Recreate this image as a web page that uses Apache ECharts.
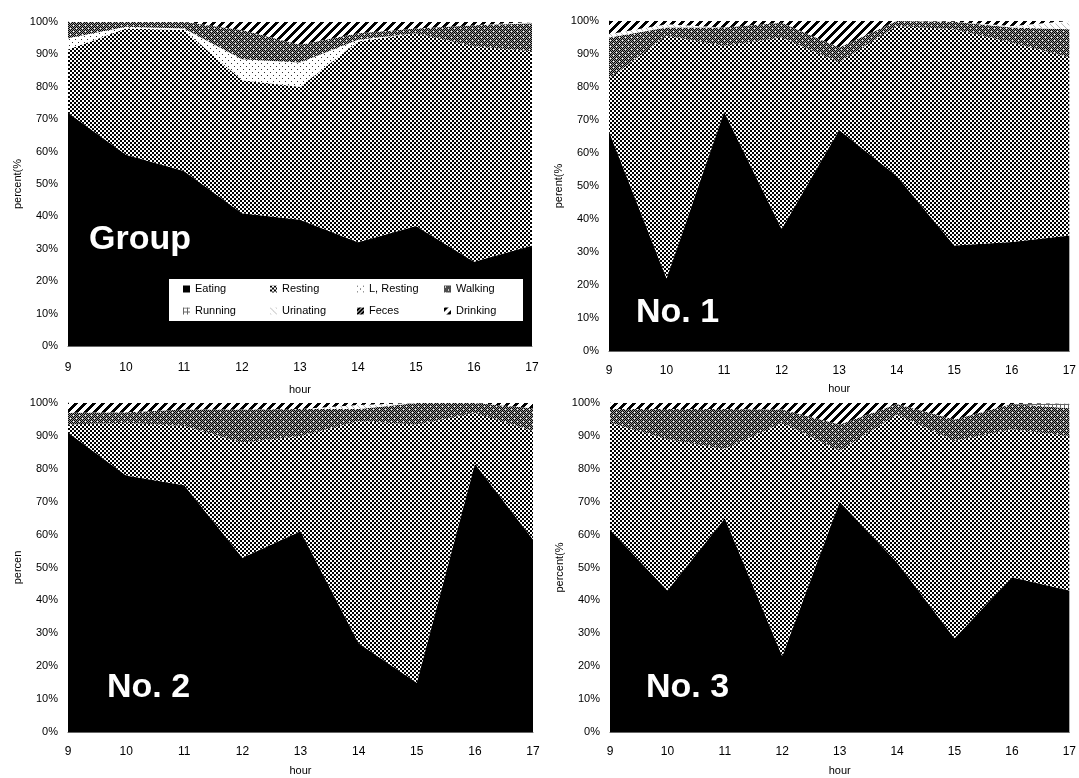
<!DOCTYPE html>
<html>
<head>
<meta charset="utf-8">
<script src="https://cdn.jsdelivr.net/npm/echarts@6/dist/echarts.min.js"></script>
<style>
html,body{margin:0;padding:0;background:#fff;}
#chart{width:1079px;height:778px;}
</style>
</head>
<body>
<div id="chart"></div>
<script>
// ---------- data ----------
const hours = ['9', '10', '11', '12', '13', '14', '15', '16', '17'];
const behaviours = ['Eating', 'Resting', 'L, Resting', 'Walking', 'Running', 'Urinating', 'Feces', 'Drinking'];
const panelTitles = ['Group', 'No. 1', 'No. 2', 'No. 3'];
const yAxisNames = ['percent(%', 'perent(%', 'percen', 'percent(%'];
const xAxisName = 'hour';

// Group
const groupEating    = [72, 59, 54, 41, 39, 32, 37, 26, 31];
const groupResting   = [19.5, 39, 43.5, 41, 41, 62, 59.5, 66.5, 60];
const groupLResting  = [3.5, 0.5, 0.5, 6.5, 7.5, 0.5, 0, 0, 0];
const groupWalking   = [5, 1.5, 2, 9, 5.5, 2, 1.5, 6.5, 8.5];
const groupRunning   = [0, 0, 0, 0, 0, 0, 0, 0, 0];
const groupUrinating = [0, 0, 0, 0, 0, 0, 0, 0, 0];
const groupFeces     = [0, 0, 0, 0, 0, 0, 0, 0, 0];
const groupDrinking  = [0, 0, 0, 2.5, 7, 3.5, 2, 1, 0.5];

// No. 1
const no1Eating    = [66.5, 22, 72.5, 37, 67, 53, 32, 33, 35];
const no1Resting   = [16, 73.5, 20, 58, 20.5, 45.5, 65.5, 60.5, 54];
const no1LResting  = [0, 0, 0, 0, 0, 0, 0, 0, 0];
const no1Walking   = [12.5, 2.5, 5.5, 4.5, 4.5, 1.5, 2.3, 4.5, 8.5];
const no1Running   = [0, 0, 0, 0, 0, 0, 0, 0, 0];
const no1Urinating = [1, 1, 0, 0, 0, 0, 0, 0.5, 2];
const no1Feces     = [0, 0, 0, 0, 0, 0, 0, 0, 0];
const no1Drinking  = [4, 1, 2, 0.5, 8, 0, 0.2, 1.5, 0.5];

// No. 2
const no2Eating    = [91, 78, 75, 53, 61, 27, 15, 81.5, 58.5];
const no2Resting   = [2.5, 16, 18, 35, 29, 67.5, 78.5, 15.5, 33];
const no2LResting  = [0, 0, 0, 0, 0, 0, 0, 0, 0];
const no2Walking   = [3.5, 3.2, 5, 10, 8.2, 3.7, 6.5, 3, 6.9];
const no2Running   = [0, 0, 0, 0, 0, 0, 0, 0, 0];
const no2Urinating = [0, 0, 0, 0, 0, 1.2, 0, 0, 0];
const no2Feces     = [0, 0, 0, 0, 0, 0, 0, 0, 0];
const no2Drinking  = [3, 2.8, 2, 2, 1.8, 0.6, 0, 0, 1.6];

// No. 3
const no3Eating    = [61.5, 43, 65, 23, 70, 51.5, 28.5, 47, 43];
const no3Resting   = [32.5, 46, 21, 71, 15.5, 45, 60, 45, 47];
const no3LResting  = [0, 0, 0, 0, 0, 0, 0, 0, 0];
const no3Walking   = [4.2, 9.2, 12.2, 4, 8, 3.2, 6.5, 7.7, 8.4];
const no3Running   = [0, 0, 0, 0, 0, 0, 0, 0, 1.4];
const no3Urinating = [0, 0, 0, 0, 0, 0, 0, 0, 0];
const no3Feces     = [0, 0, 0, 0, 0, 0, 0, 0, 0];
const no3Drinking  = [1.8, 1.8, 1.8, 2, 6.5, 0.3, 5, 0.3, 0.2];

const panelSeries = [
  [groupEating, groupResting, groupLResting, groupWalking, groupRunning, groupUrinating, groupFeces, groupDrinking],
  [no1Eating, no1Resting, no1LResting, no1Walking, no1Running, no1Urinating, no1Feces, no1Drinking],
  [no2Eating, no2Resting, no2LResting, no2Walking, no2Running, no2Urinating, no2Feces, no2Drinking],
  [no3Eating, no3Resting, no3LResting, no3Walking, no3Running, no3Urinating, no3Feces, no3Drinking]
];

// ---------- styles ----------
const SANS = '"Liberation Sans", Arial, sans-serif';

function pattern(size, fn) {
  const c = document.createElement('canvas');
  c.width = size; c.height = size;
  const ctx = c.getContext('2d');
  ctx.fillStyle = '#fff';
  ctx.fillRect(0, 0, size, size);
  for (let y = 0; y < size; y++) {
    for (let x = 0; x < size; x++) {
      const col = fn(x, y);
      if (col) { ctx.fillStyle = col; ctx.fillRect(x, y, 1, 1); }
    }
  }
  return { image: c, repeat: 'repeat' };
}

const fills = [
  '#000000',
  // Resting: dense dot lattice
  pattern(4, (x, y) => ((Math.floor(x / 2) + Math.floor(y / 2)) % 2 === 0) ? '#000' : null),
  // L. Resting: sparse dots
  pattern(6, (x, y) => ((x === 0 && y === 0) || (x === 3 && y === 3)) ? '#333' : null),
  // Walking: dark grey dither with white dots
  pattern(6, (x, y) => {
    if ((x === 1 && y === 1) || (x === 4 && y === 4)) return '#fff';
    return ((x + y) % 2 === 0) ? '#000' : '#9a9a9a';
  }),
  // Running: hash
  pattern(4, (x, y) => (x === 0 || y === 0) ? '#666' : null),
  // Urinating: light diagonal
  pattern(6, (x, y) => ((x - y + 6) % 6 === 0) ? '#bbb' : null),
  // Feces: dark
  pattern(4, (x, y) => ((x + y) % 4 === 0) ? '#fff' : '#000'),
  // Drinking: thick "/" stripes
  pattern(9, (x, y) => ((x + y) % 9 < 4) ? '#000' : null)
];

// plot rectangles
const grids = [
  { left: 68, top: 22, width: 464, height: 324 },
  { left: 609, top: 21, width: 467, height: 330 },
  { left: 68, top: 403, width: 465, height: 329 },
  { left: 610, top: 403, width: 463, height: 329 }
];
const xNameGaps = [38, 32, 33, 33];
const xLabelMargins = [16, 14, 14, 14];

const xAxes = [], yAxes = [], series = [];
grids.forEach((g, p) => {
  xAxes.push({
    gridIndex: p, type: 'category', data: hours, boundaryGap: false,
    name: xAxisName, nameLocation: 'middle', nameGap: xNameGaps[p],
    nameTextStyle: { color: '#000', fontSize: 11, fontFamily: SANS },
    axisLine: { show: true, lineStyle: { color: '#666', width: 1 } },
    axisTick: { show: false },
    axisLabel: { color: '#000', fontSize: 12, fontFamily: SANS, margin: xLabelMargins[p], interval: 0 },
    splitLine: { show: false }
  });
  yAxes.push({
    gridIndex: p, type: 'value', min: 0, max: 100, interval: 10,
    name: yAxisNames[p], nameLocation: 'middle', nameGap: 45, nameRotate: 90,
    nameTextStyle: { color: '#000', fontSize: 11, fontFamily: SANS },
    axisLine: { show: true, lineStyle: { color: '#666', width: 1 } },
    axisTick: { show: false },
    axisLabel: { color: '#000', fontSize: 11, fontFamily: SANS, margin: 10, formatter: v => v + '%' },
    splitLine: { show: false }
  });
  behaviours.forEach((b, i) => {
    series.push({
      type: 'line', name: b, xAxisIndex: p, yAxisIndex: p, stack: 'panel' + p,
      data: panelSeries[p][i], symbol: 'none', showSymbol: false, silent: true,
      lineStyle: { width: 0, color: fills[i] },
      itemStyle: { color: fills[i] },
      areaStyle: { color: fills[i], opacity: 1 },
      z: 2
    });
  });
});

const titlePos = [
  { left: 89, top: 223 },
  { left: 636, top: 296 },
  { left: 107, top: 671 },
  { left: 646, top: 671 }
];
const graphic = panelTitles.map((t, i) => ({
  type: 'text', left: titlePos[i].left, top: titlePos[i].top, z: 100,
  style: { text: t, fill: '#fff', font: 'bold 34px ' + SANS }
}));

const chart = echarts.init(document.getElementById('chart'), null, { renderer: 'canvas' });
chart.setOption({
  animation: false,
  backgroundColor: '#fff',
  grid: grids.map(g => Object.assign({ containLabel: false }, g)),
  xAxis: xAxes,
  yAxis: yAxes,
  series: series,
  legend: {
    data: behaviours,
    left: 169, top: 279, width: 350,
    orient: 'horizontal',
    backgroundColor: '#fff',
    borderWidth: 0,
    padding: [3, 0, 3, 14],
    itemGap: 8,
    itemWidth: 7, itemHeight: 7,
    icon: 'rect',
    selectedMode: false,
    textStyle: { color: '#000', fontSize: 11, fontFamily: SANS, width: 67, lineHeight: 14, overflow: 'truncate' }
  },
  graphic: graphic
});
</script>
</body>
</html>
